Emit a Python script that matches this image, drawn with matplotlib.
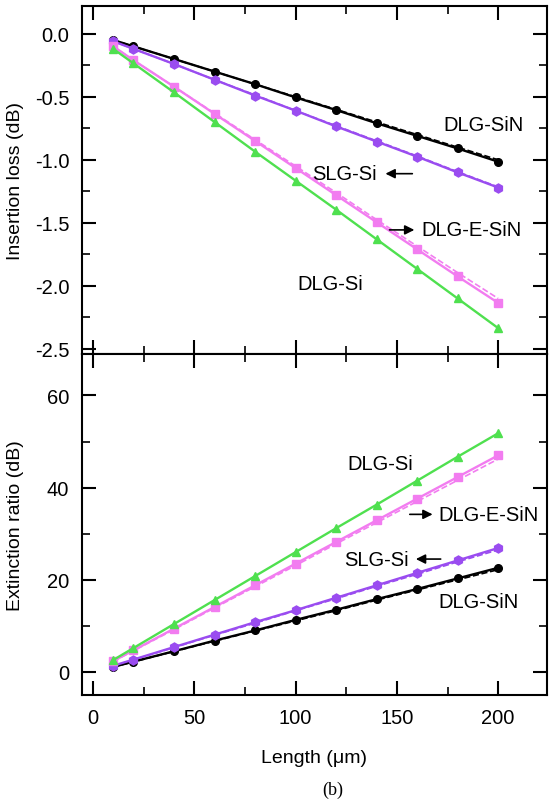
import matplotlib
matplotlib.use('Agg')
import matplotlib.pyplot as plt
import matplotlib.ticker as tck
import numpy as np

plt.rcParams['font.family'] = ['Liberation Sans', 'DejaVu Sans']

# ========== Data ==========
length = [10, 20, 40, 60, 80, 100, 120, 140, 160, 180, 200]

il_dlg_sin = [-0.05, -0.10, -0.20, -0.30, -0.40, -0.505, -0.605, -0.71, -0.81, -0.91, -1.015]
il_dlg_sin_dash = [-0.05, -0.10, -0.20, -0.30, -0.40, -0.50, -0.60, -0.70, -0.80, -0.90, -1.00]
il_slg_si = [-0.06, -0.12, -0.24, -0.365, -0.49, -0.61, -0.735, -0.855, -0.975, -1.10, -1.22]
il_slg_si_dash = [-0.06, -0.12, -0.24, -0.365, -0.485, -0.61, -0.73, -0.85, -0.97, -1.095, -1.215]
il_dlg_esin = [-0.10, -0.21, -0.42, -0.635, -0.85, -1.065, -1.28, -1.495, -1.71, -1.925, -2.135]
il_dlg_esin_dash = [-0.10, -0.21, -0.42, -0.63, -0.84, -1.05, -1.26, -1.475, -1.685, -1.895, -2.10]
il_dlg_si = [-0.12, -0.235, -0.465, -0.70, -0.935, -1.165, -1.395, -1.63, -1.865, -2.10, -2.335]

er_dlg_si = [2.6, 5.2, 10.4, 15.6, 20.8, 26.0, 31.2, 36.3, 41.5, 46.7, 51.8]
er_dlg_esin = [2.35, 4.7, 9.4, 14.1, 18.8, 23.5, 28.2, 32.9, 37.6, 42.3, 47.0]
er_dlg_esin_dash = [2.3, 4.6, 9.2, 13.9, 18.5, 23.1, 27.8, 32.4, 37.0, 41.6, 46.2]
er_slg_si = [1.35, 2.7, 5.4, 8.1, 10.8, 13.4, 16.1, 18.8, 21.5, 24.2, 26.9]
er_slg_si_dash = [1.3, 2.65, 5.3, 8.0, 10.6, 13.3, 15.9, 18.6, 21.2, 23.9, 26.5]
er_dlg_sin = [1.1, 2.25, 4.5, 6.8, 9.0, 11.3, 13.5, 15.8, 18.0, 20.3, 22.6]
er_dlg_sin_dash = [1.1, 2.2, 4.45, 6.7, 8.9, 11.1, 13.3, 15.6, 17.8, 20.0, 22.2]

c_black = 'black'
c_purple = '#9a4cf0'
c_pink = '#f27cf0'
c_green = '#4fe04f'
fs = 14.5

fig = plt.figure(figsize=(5.49, 8.04), dpi=100)
ax0 = fig.add_axes([0.149, 0.5585, 0.847, 0.4328])
ax1 = fig.add_axes([0.149, 0.1343, 0.847, 0.4242])

# ========== Insertion loss ==========
ax0.plot(length, il_dlg_sin_dash, '--', color=c_black, lw=1.2)
ax0.plot(length, il_slg_si_dash, '--', color=c_purple, lw=1.2)
ax0.plot(length, il_dlg_esin_dash, '--', color=c_pink, lw=1.2)
ax0.plot(length, il_dlg_sin, '-o', color=c_black, lw=1.7, ms=5.5)
ax0.plot(length, il_slg_si, '-h', color=c_purple, lw=1.7, ms=6.5)
ax0.plot(length, il_dlg_esin, '-s', color=c_pink, lw=1.7, ms=5.5)
ax0.plot(length, il_dlg_si, '-^', color=c_green, lw=1.7, ms=6)

ax0.set_ylim(-2.54, 0.22)
ax0.set_ylabel('Insertion loss (dB)', fontsize=14)
ax0.yaxis.set_major_locator(tck.MultipleLocator(0.5))
ax0.yaxis.set_minor_locator(tck.MultipleLocator(0.25))
ax0.yaxis.set_major_formatter(tck.FormatStrFormatter('%.1f'))

ax0.text(173, -0.72, 'DLG-SiN', fontsize=fs, va='center')
ax0.text(108, -1.11, 'SLG-Si', fontsize=fs, va='center')
ax0.text(162, -1.556, 'DLG-E-SiN', fontsize=fs, va='center')
ax0.text(101, -1.98, 'DLG-Si', fontsize=fs, va='center')
ax0.annotate('', xy=(143, -1.11), xytext=(159, -1.11),
             arrowprops=dict(arrowstyle='-|>', color='black', lw=1.2, mutation_scale=14))
ax0.annotate('', xy=(160, -1.556), xytext=(145, -1.556),
             arrowprops=dict(arrowstyle='-|>', color='black', lw=1.2, mutation_scale=14))

# ========== Extinction ratio ==========
ax1.plot(length, er_dlg_sin_dash, '--', color=c_black, lw=1.2)
ax1.plot(length, er_slg_si_dash, '--', color=c_purple, lw=1.2)
ax1.plot(length, er_dlg_esin_dash, '--', color=c_pink, lw=1.2)
ax1.plot(length, er_dlg_sin, '-o', color=c_black, lw=1.7, ms=5.5)
ax1.plot(length, er_slg_si, '-h', color=c_purple, lw=1.7, ms=6.5)
ax1.plot(length, er_dlg_esin, '-s', color=c_pink, lw=1.7, ms=5.5)
ax1.plot(length, er_dlg_si, '-^', color=c_green, lw=1.7, ms=6)

ax1.set_ylim(-5, 69)
ax1.set_ylabel('Extinction ratio (dB)', fontsize=14)
ax1.set_xlabel('Length (\u03bcm)', fontsize=14, labelpad=16)
ax1.yaxis.set_major_locator(tck.MultipleLocator(20))
ax1.yaxis.set_minor_locator(tck.MultipleLocator(10))

ax1.text(125.5, 45.3, 'DLG-Si', fontsize=fs, va='center')
ax1.text(170.5, 34.2, 'DLG-E-SiN', fontsize=fs, va='center')
ax1.text(124, 24.5, 'SLG-Si', fontsize=fs, va='center')
ax1.text(170.5, 15.4, 'DLG-SiN', fontsize=fs, va='center')
ax1.annotate('', xy=(169, 34.2), xytext=(155, 34.2),
             arrowprops=dict(arrowstyle='-|>', color='black', lw=1.2, mutation_scale=14))
ax1.annotate('', xy=(158, 24.5), xytext=(173, 24.5),
             arrowprops=dict(arrowstyle='-|>', color='black', lw=1.2, mutation_scale=14))

for ax in (ax0, ax1):
    ax.set_xlim(-5.5, 224)
    ax.xaxis.set_major_locator(tck.MultipleLocator(50))
    ax.xaxis.set_minor_locator(tck.MultipleLocator(25))
    ax.yaxis.set_ticks_position('both')
    ax.xaxis.set_ticks_position('both')
    ax.tick_params(which='major', width=1.5, size=10, direction='in', labelsize=fs, pad=9)
    ax.tick_params(which='minor', width=1.2, size=6, direction='in')
    for sp in ax.spines.values():
        sp.set_linewidth(1.5)

ax0.tick_params(axis='x', labelbottom=False)
ax0.yaxis.set_label_coords(-0.125, 0.5)
ax1.yaxis.set_label_coords(-0.125, 0.5)

fig.text(0.607, 0.0174, '(b)', fontsize=13, family='Liberation Serif', ha='center', va='center')

fig.savefig('out.png', dpi=100)
